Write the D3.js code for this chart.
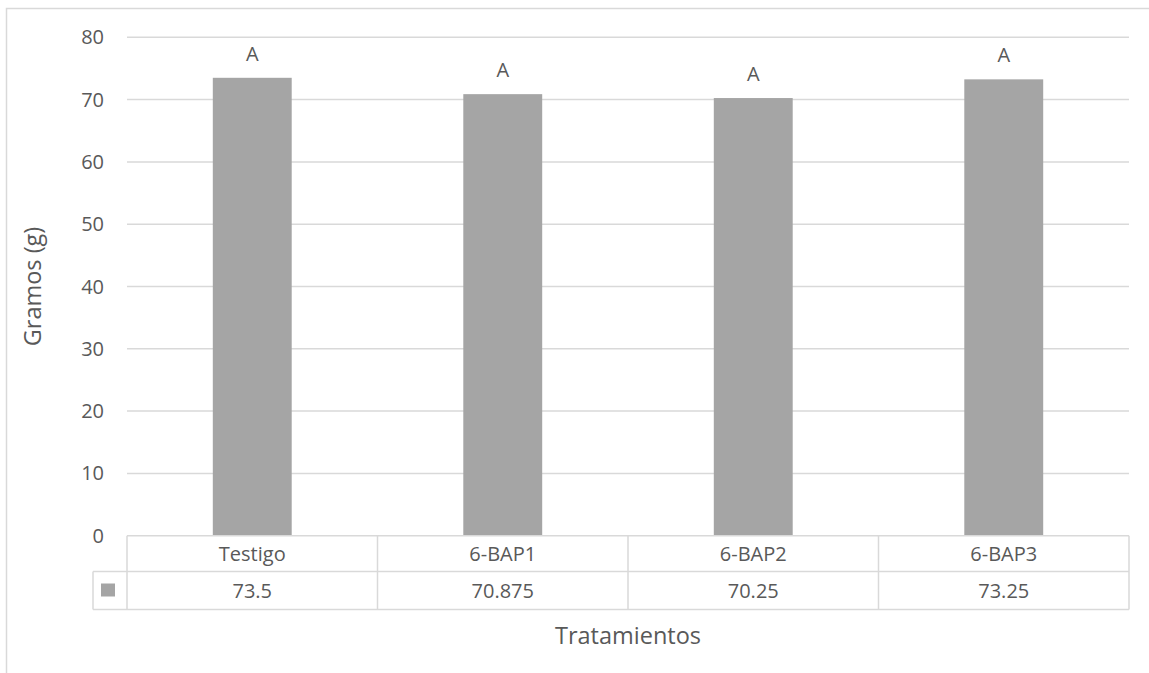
<!DOCTYPE html>
<html><head><meta charset="utf-8">
<script src="https://cdn.jsdelivr.net/npm/d3@7"></script>
<style>body{margin:0;background:#fff}svg{display:block}text{font-family:"Open Sans",sans-serif;fill:#595959}</style>
</head><body>
<script>
const categories = ["Testigo","6-BAP1","6-BAP2","6-BAP3"];
const values = [73.5, 70.875, 70.25, 73.25];
const valueLabels = ["73.5","70.875","70.25","73.25"];
const letters = ["A","A","A","A"];
const yTicks = [0,10,20,30,40,50,60,70,80];

(function(){
const W=1149,H=673;
const svg=d3.select("body").append("svg").attr("width",W).attr("height",H);
const grid="#d9d9d9", barColor="#a5a5a5", fs=20, fsT=23.5;

// outer chart border
svg.append("rect").attr("x",6.5).attr("y",8.5).attr("width",W+20).attr("height",H+20)
  .attr("fill","none").attr("stroke",grid).attr("stroke-width",1.5);

const pL=127,pR=1129,pT=37.3,pB=535.7;
const x=d3.scaleBand().domain(categories).range([pL,pR]).paddingInner(0).paddingOuter(0);
const y=d3.scaleLinear().domain([0,80]).range([pB,pT]);

// gridlines
svg.append("g").selectAll("line").data(yTicks.filter(d=>d>0)).join("line")
  .attr("x1",pL).attr("x2",pR).attr("y1",d=>y(d)).attr("y2",d=>y(d))
  .attr("stroke",grid).attr("stroke-width",1.5);

// y tick labels
svg.append("g").selectAll("text").data(yTicks).join("text")
  .attr("x",104).attr("y",d=>y(d)).attr("dy","0.35em").attr("text-anchor","end")
  .attr("font-size",fs).text(d=>d);

// bars
const bw=x.bandwidth()*0.315;
svg.append("g").selectAll("rect").data(values).join("rect")
  .attr("x",(d,i)=>x(categories[i])+x.bandwidth()/2-bw/2).attr("width",bw)
  .attr("y",d=>y(d)).attr("height",d=>y(0)-y(d)).attr("fill",barColor);

// letters
svg.append("g").selectAll("text").data(values).join("text")
  .attr("x",(d,i)=>x(categories[i])+x.bandwidth()/2).attr("y",d=>y(d)-17)
  .attr("text-anchor","middle").attr("font-size",fs).text((d,i)=>letters[i]);

// data table
const r0=pB, r1=571.5, r2=609.5, legL=93;
const tg=svg.append("g").attr("stroke",grid).attr("stroke-width",1.5);
tg.append("line").attr("x1",pL).attr("x2",pR).attr("y1",r0).attr("y2",r0);
tg.append("line").attr("x1",legL).attr("x2",pR).attr("y1",r1).attr("y2",r1);
tg.append("line").attr("x1",legL).attr("x2",pR).attr("y1",r2).attr("y2",r2);
tg.append("line").attr("x1",legL).attr("x2",legL).attr("y1",r1).attr("y2",r2);
const bounds=categories.map(c=>x(c)).concat([pR]);
tg.selectAll("line.v").data(bounds).join("line").attr("class","v")
  .attr("x1",d=>d).attr("x2",d=>d).attr("y1",r0).attr("y2",r2);

svg.append("rect").attr("x",101).attr("y",583.5).attr("width",14).attr("height",13).attr("fill",barColor);

svg.append("g").selectAll("text").data(categories).join("text")
  .attr("x",d=>x(d)+x.bandwidth()/2).attr("y",(r0+r1)/2).attr("dy","0.35em")
  .attr("text-anchor","middle").attr("font-size",fs).text(d=>d);
svg.append("g").selectAll("text").data(valueLabels).join("text")
  .attr("x",(d,i)=>x(categories[i])+x.bandwidth()/2).attr("y",(r1+r2)/2).attr("dy","0.35em")
  .attr("text-anchor","middle").attr("font-size",fs).text(d=>d);

// axis titles
svg.append("text").attr("transform",`translate(33,${(pT+pB)/2}) rotate(-90)`)
  .attr("dy","0.35em").attr("text-anchor","middle").attr("font-size",fsT).text("Gramos (g)");
svg.append("text").attr("x",(pL+pR)/2).attr("y",636).attr("dy","0.35em")
  .attr("text-anchor","middle").attr("font-size",fsT).text("Tratamientos");
})();
</script>
</body></html>
